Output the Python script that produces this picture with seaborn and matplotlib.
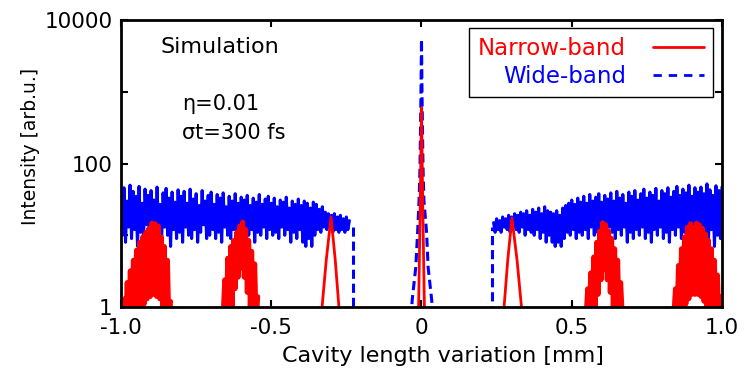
import numpy as np
import pandas as pd
import matplotlib
matplotlib.use("Agg")
import matplotlib.pyplot as plt
import seaborn as sns
from matplotlib.lines import Line2D

wide_left_x = [-1.00, -0.24]
wide_left_y = [38, 10, 46, 8, 30, 13, 50, 9, 41, 12, 35, 7, 48, 11, 28, 9, 44, 14, 36, 8,
               42, 12, 31, 9, 47, 11, 27, 8, 39, 13, 45, 10, 33, 7, 40, 12, 29, 9, 43, 11,
               35, 8, 41, 13, 28, 10, 44, 9, 32, 12, 38, 8, 26, 11, 42, 14, 30, 9, 36, 10,
               40, 12, 27, 9, 37, 11, 33, 8, 39, 13, 25, 10, 35, 9, 30, 12, 38, 10, 28, 11,
               34, 9, 31, 13, 36, 10, 26, 12, 33, 8, 29, 11, 37, 10, 27, 13, 32, 9, 35, 12,
               28, 10, 33, 11, 25, 9, 31, 13, 29, 10, 34, 12, 24, 8, 30, 11, 27, 9, 32, 12,
               26, 8, 30, 7, 28, 9, 24, 7, 29, 10, 27, 12, 23, 11, 25, 13, 21, 12, 20, 13,
               19, 11, 20, 12, 18, 11, 19, 12, 17, 11, 18, 12, 16]
wide_right_x = [0.24, 1.00]
wide_right_y = [15, 11, 17, 12, 16, 11, 18, 13, 17, 12, 19, 11, 18, 13, 20, 12, 19, 11, 21, 13,
                20, 10, 22, 12, 19, 11, 23, 10, 21, 12, 24, 9, 20, 11, 25, 8, 22, 10, 21, 8,
                20, 7, 22, 8, 19, 7, 24, 9, 26, 11, 28, 10, 31, 12, 27, 9, 33, 11, 29, 10,
                35, 12, 28, 9, 37, 13, 30, 10, 34, 11, 38, 9, 29, 12, 36, 10, 32, 13, 39, 11,
                30, 9, 41, 12, 33, 10, 37, 13, 28, 8, 40, 11, 35, 9, 42, 12, 31, 10, 38, 13,
                44, 9, 33, 11, 40, 8, 36, 12, 45, 10, 30, 13, 42, 9, 38, 11, 46, 8, 34, 12,
                41, 10, 48, 13, 36, 9, 44, 11, 39, 8, 50, 12, 35, 7, 46, 10, 40, 13, 47, 9,
                38, 11, 52, 8, 43, 12, 36, 7, 49, 10, 42, 9, 47]
wide_edge_x = [-0.228, 0.235]
wide_center_x = [-0.034, -0.031, -0.019, -0.013, -0.008, -0.005, -0.002, 0.0,
                 0.002, 0.005, 0.008, 0.017, 0.022, 0.034, 0.038]
wide_center_y = [0.7, 1.25, 3.6, 10.8, 31, 89, 770, 5400, 770, 89, 31, 10.8, 3.6, 1.25, 0.7]

# narrow-band (red) peaks
narrow_center_x = [-0.010, -0.004, 0.0, 0.004, 0.010]
narrow_center_y = [0.8, 30, 600, 30, 0.8]
peak3_left_x = [-0.333, -0.317, -0.301, -0.287, -0.273]
peak3_left_y = [0.8, 4.5, 18, 4.5, 0.8]
peak3_right_x = [0.273, 0.287, 0.301, 0.318, 0.335]
peak3_right_y = [0.8, 4.5, 17.4, 4.5, 0.8]
peak9_left_x = [-0.990, -0.835]
peak9_left_y = [1.3, 0.5, 2.2, 0.5, 3.2, 0.6, 4.5, 0.7, 6.2, 0.8, 8.0, 0.9, 9.5, 1.1, 11, 1.3,
                12.5, 1.4, 14.8, 1.5, 14.5, 1.4, 13.5, 1.3, 9.5, 1.0, 7.0, 0.8, 4.5, 0.5, 1.2]
peak6_left_x = [-0.660, -0.545]
peak6_left_y = [0.8, 2.4, 0.6, 4.8, 0.8, 7.0, 1.0, 8.5, 1.8, 11, 2.6, 13.5, 3.5, 15.3, 2.6, 12,
                1.6, 8.5, 1.0, 6, 0.8, 4.0, 0.6, 1.4]
peak6_right_x = [0.548, 0.668]
peak6_right_y = [0.8, 1.8, 0.6, 3.0, 0.7, 5.0, 0.9, 8.0, 1.5, 11.5, 2.4, 15, 3.3, 14, 2.4, 11.5,
                 1.6, 9, 1.0, 6.5, 0.8, 4.5, 0.6, 2.2, 0.8]
peak9_right_x = [0.840, 0.995]
peak9_right_y = [0.8, 1.8, 0.6, 3.8, 0.7, 6.5, 0.9, 9.5, 1.1, 13, 1.3, 14.5, 1.5, 13, 1.5, 14.8,
                 1.5, 14, 1.4, 12.5, 1.2, 10.5, 1.0, 8.5, 0.8, 6.5, 0.7, 4.5, 0.6, 2.8, 0.6, 1.4]

x_ticks = [-1.0, -0.5, 0, 0.5, 1.0]
x_ticklabels = ["-1.0", "-0.5", "0", "0.5", "1.0"]
y_ticks = [1, 10, 100, 1000, 10000]
y_ticklabels = ["1", "", "100", "", "10000"]

RED = "#ff0000"
BLUE = "#0000ff"


def sampled(span, values):
    return np.linspace(span[0], span[1], len(values))


sns.set_style("ticks")
plt.rcParams["font.family"] = ["DejaVu Sans"]
plt.rcParams["text.color"] = "black"
plt.rcParams["axes.labelcolor"] = "black"

fig = plt.figure(figsize=(7.47, 3.74), dpi=100)
ax = fig.add_axes([0.162, 0.179, 0.8045, 0.7675])

band_kw = dict(color=BLUE, linewidth=2.2, estimator=None, sort=False, ax=ax)
dash_kw = dict(color=BLUE, linewidth=2.2, linestyle=(0, (3, 1.6)), estimator=None, sort=False, ax=ax)

# blue band, left + drop, centre peak, right drop + band
sns.lineplot(x=sampled(wide_left_x, wide_left_y), y=wide_left_y, **band_kw)
sns.lineplot(x=[wide_edge_x[0]] * 2, y=[13, 0.5], **dash_kw)
sns.lineplot(x=wide_center_x, y=wide_center_y, **dash_kw)
sns.lineplot(x=[wide_edge_x[1]] * 2, y=[0.5, 13], **dash_kw)
sns.lineplot(x=sampled(wide_right_x, wide_right_y), y=wide_right_y, **band_kw)

# red peaks
for px, py in [(peak9_left_x, peak9_left_y), (peak6_left_x, peak6_left_y),
               (peak6_right_x, peak6_right_y), (peak9_right_x, peak9_right_y)]:
    sns.lineplot(x=sampled(px, py), y=py, color=RED, linewidth=3.5, estimator=None,
                 sort=False, ax=ax)
for px, py in [(peak3_left_x, peak3_left_y), (peak3_right_x, peak3_right_y),
               (narrow_center_x, narrow_center_y)]:
    sns.lineplot(x=px, y=py, color=RED, linewidth=2, estimator=None, sort=False, ax=ax)

ax.set_yscale("log")
ax.set_xlim(-1.0, 1.0)
ax.set_ylim(1, 10000)
ax.set_xticks(x_ticks)
ax.set_xticklabels(x_ticklabels)
ax.set_yticks(y_ticks)
ax.set_yticklabels(y_ticklabels)
ax.minorticks_off()
ax.tick_params(direction="in", length=5, width=1.5, labelsize=15.5, top=True, right=True,
               colors="black")
ax.tick_params(axis="x", pad=8)
ax.tick_params(axis="y", pad=6)
for s in ax.spines.values():
    s.set_linewidth(2)
    s.set_color("black")

ax.set_xlabel("Cavity length variation [mm]", fontsize=16)
ax.xaxis.set_label_coords(0.536, -0.135)
ax.xaxis.label.set_va("top")
ax.set_ylabel("Intensity [arb.u.]", fontsize=13.5)
ax.yaxis.set_label_coords(-0.135, 0.56)

ax.text(0.065, 0.885, "Simulation", transform=ax.transAxes, fontsize=16)
ax.text(0.101, 0.686, "\u03b7=0.01", transform=ax.transAxes, fontsize=15)
ax.text(0.101, 0.585, "\u03c3t=300 fs", transform=ax.transAxes, fontsize=15)

handles = [Line2D([], [], color=RED, lw=2),
           Line2D([], [], color=BLUE, lw=2, linestyle=(0, (3, 2.5)))]
leg = ax.legend(handles, ["Narrow-band", "Wide-band"], loc="upper right",
                bbox_to_anchor=(0.985, 0.972), borderaxespad=0, markerfirst=False,
                labelcolor=[RED, BLUE], fontsize=16.5, fancybox=False, framealpha=1,
                edgecolor="black", handlelength=2.2, labelspacing=0.2, borderpad=0.4,
                handletextpad=1.2)
leg.get_frame().set_linewidth(1)

fig.savefig("out.png", dpi=100)
